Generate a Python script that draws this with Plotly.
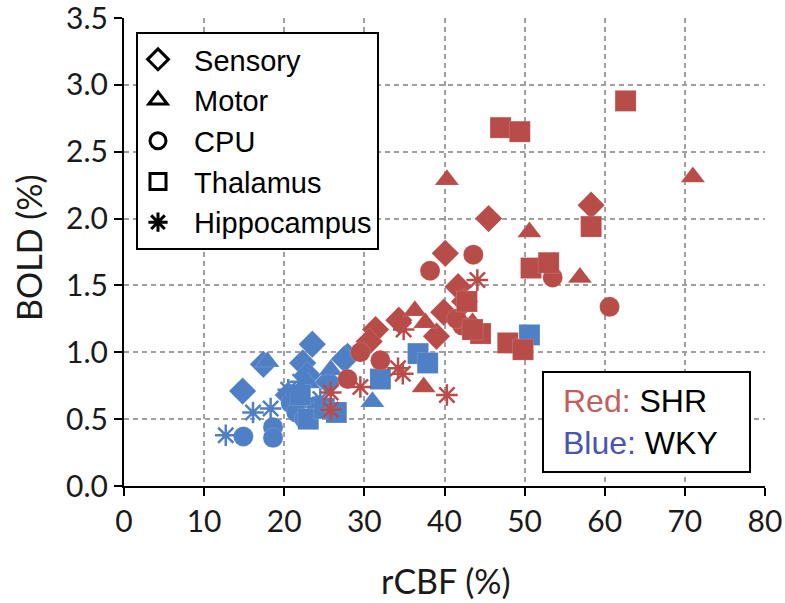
import plotly.graph_objects as go

# ---------------- data ----------------
shr_sensory_x = [45.5, 58.3, 40.1, 41.7, 39.9, 34.3, 31.4, 30.6, 39.0, 42.5]
shr_sensory_y = [2.00, 2.10, 1.74, 1.49, 1.30, 1.24, 1.17, 1.08, 1.12, 1.38]
shr_motor_x = [40.3, 50.6, 56.9, 71.0, 36.3, 37.6, 37.4, 43.5]
shr_motor_y = [2.29, 1.90, 1.56, 2.31, 1.31, 1.22, 0.74, 1.22]
shr_cpu_x = [43.6, 53.5, 60.6, 38.2, 29.5, 32.0, 27.9, 42.2, 41.5]
shr_cpu_y = [1.73, 1.56, 1.34, 1.61, 1.00, 0.94, 0.80, 1.20, 1.25]
shr_thal_x = [62.6, 47.0, 49.4, 58.3, 50.8, 53.0, 47.9, 49.8, 44.5, 42.8, 43.5]
shr_thal_y = [2.88, 2.68, 2.65, 1.94, 1.63, 1.67, 1.07, 1.02, 1.14, 1.38, 1.17]
shr_hippo_x = [44.1, 34.9, 34.2, 34.8, 29.5, 25.8, 25.8, 40.3]
shr_hippo_y = [1.54, 1.17, 0.88, 0.84, 0.74, 0.70, 0.57, 0.68]

wky_sensory_x = [23.5, 22.3, 22.9, 14.8, 17.4, 27.9, 25.5, 20.5, 27.5]
wky_sensory_y = [1.06, 0.92, 0.83, 0.71, 0.91, 0.97, 0.78, 0.68, 0.95]
wky_motor_x = [17.9, 31.0, 25.8, 23.0, 21.5]
wky_motor_y = [0.93, 0.63, 0.87, 0.77, 0.62]
wky_cpu_x = [14.9, 18.6, 18.6, 20.8, 21.5, 22.5, 24.0]
wky_cpu_y = [0.37, 0.44, 0.36, 0.62, 0.55, 0.50, 0.60]
wky_thal_x = [36.7, 37.9, 32.0, 50.6, 23.0, 25.0, 22.0, 26.5]
wky_thal_y = [0.99, 0.92, 0.80, 1.13, 0.50, 0.58, 0.68, 0.55]
wky_hippo_x = [12.7, 16.1, 18.3, 20.5, 22.0, 24.5]
wky_hippo_y = [0.38, 0.55, 0.58, 0.72, 0.78, 0.65]

region_names = ["Sensory", "Motor", "CPU", "Thalamus", "Hippocampus"]
x_ticks = [0, 10, 20, 30, 40, 50, 60, 70, 80]
y_ticks = [0.0, 0.5, 1.0, 1.5, 2.0, 2.5, 3.0, 3.5]
y_tick_text = ["0.0", "0.5", "1.0", "1.5", "2.0", "2.5", "3.0", "3.5"]
x_title = "rCBF (%)"
y_title = "BOLD (%)"

RED = "#B84C48"
BLUE = "#4F7FC4"

symbols = {
    "Sensory": ("diamond", 21),
    "Motor": ("triangle-up", 21),
    "CPU": ("circle", 20),
    "Thalamus": ("square", 21),
    "Hippocampus": ("asterisk-open", 18),
}

fig = go.Figure()

groups = [
    (wky_sensory_x, wky_sensory_y, "Sensory", BLUE),
    (wky_motor_x, wky_motor_y, "Motor", BLUE),
    (wky_cpu_x, wky_cpu_y, "CPU", BLUE),
    (wky_thal_x, wky_thal_y, "Thalamus", BLUE),
    (wky_hippo_x, wky_hippo_y, "Hippocampus", BLUE),
    (shr_sensory_x, shr_sensory_y, "Sensory", RED),
    (shr_motor_x, shr_motor_y, "Motor", RED),
    (shr_cpu_x, shr_cpu_y, "CPU", RED),
    (shr_thal_x, shr_thal_y, "Thalamus", RED),
    (shr_hippo_x, shr_hippo_y, "Hippocampus", RED),
]

for xs, ys, reg, col in groups:
    sym, sz = symbols[reg]
    if reg == "Hippocampus":
        marker = dict(symbol=sym, size=sz, color=col, line=dict(color=col, width=2.5))
    else:
        marker = dict(symbol=sym, size=sz, color=col, line=dict(color="rgba(255,255,255,0.3)", width=0.5))
    fig.add_trace(go.Scatter(x=xs, y=ys, mode="markers", marker=marker, showlegend=False,
                             hoverinfo="skip"))

legend_symbols = ["diamond-open", "triangle-up-open", "circle-open", "square-open", "asterisk-open"]
for name, sym in zip(region_names, legend_symbols):
    fig.add_trace(go.Scatter(x=[None], y=[None], mode="markers", name="\u00a0\u00a0" + name,
                             marker=dict(symbol=sym, size=16, color="black",
                                         line=dict(color="black", width=3))))

W, H = 785, 603
ml, mr, mt, mb = 124, 20, 18, 117
pw, ph = W - ml - mr, H - mt - mb

def px_x(p):
    return (p - ml) / pw

def px_y(p):
    return (H - mb - p) / ph

TICKFONT = dict(size=30, family="Lato, Liberation Sans", color="#1a1a1a")
TITLEFONT = dict(size=34, family="Lato, Liberation Sans", color="#1a1a1a")

fig.update_layout(
    width=W, height=H,
    margin=dict(l=ml, r=mr, t=mt, b=mb),
    paper_bgcolor="white", plot_bgcolor="white",
    font=dict(family="Lato, Liberation Sans, Arial", color="#222"),
    legend=dict(
        x=px_x(136), y=px_y(32), xanchor="left", yanchor="top",
        bordercolor="black", borderwidth=2, bgcolor="white",
        font=dict(family="Liberation Sans, Arial", size=29, color="black"),
        itemsizing="trace", tracegroupgap=0,
    ),
    xaxis=dict(
        range=[0, 80], tickvals=x_ticks, ticks="outside", ticklen=8, tickwidth=2,
        tickcolor="black", showline=True, linecolor="black", linewidth=2,
        showgrid=True, gridcolor="#a0a0a0", gridwidth=2, griddash="5px,4px",
        zeroline=False, tickfont=TICKFONT, automargin=False, ticklabeloverflow="allow",
    ),
    yaxis=dict(
        range=[0, 3.5], tickvals=y_ticks, ticktext=y_tick_text, ticks="outside", ticklen=8,
        tickwidth=2, tickcolor="black", showline=True, linecolor="black", linewidth=2,
        showgrid=True, gridcolor="#a0a0a0", gridwidth=2, griddash="5px,4px",
        zeroline=False, tickfont=TICKFONT, automargin=False, ticklabeloverflow="allow",
    ),
)

# axis titles
fig.add_annotation(xref="paper", yref="paper", x=px_x(446), y=px_y(580),
                   xanchor="center", yanchor="middle", showarrow=False,
                   text=x_title, font=TITLEFONT)
fig.add_annotation(xref="paper", yref="paper", x=px_x(28), y=px_y(248),
                   xanchor="center", yanchor="middle", showarrow=False, textangle=-90,
                   text=y_title, font=TITLEFONT)

# Strain legend box
fig.add_shape(type="rect", xref="paper", yref="paper",
              x0=px_x(543), x1=px_x(750), y0=px_y(472), y1=px_y(372),
              line=dict(color="black", width=2), fillcolor="white", layer="above")
fig.add_annotation(
    xref="paper", yref="paper", x=px_x(561), y=px_y(422), xanchor="left", yanchor="middle",
    showarrow=False, align="left",
    text="<span style='color:#C0605C'>Red:</span> SHR<br><span style='color:#4A55B0'>Blue:</span> WKY",
    font=dict(family="Liberation Sans, Arial", size=32, color="black"),
)

fig.write_html("out.html", config={"displayModeBar": False},
               post_script="document.body.style.margin='0';")
